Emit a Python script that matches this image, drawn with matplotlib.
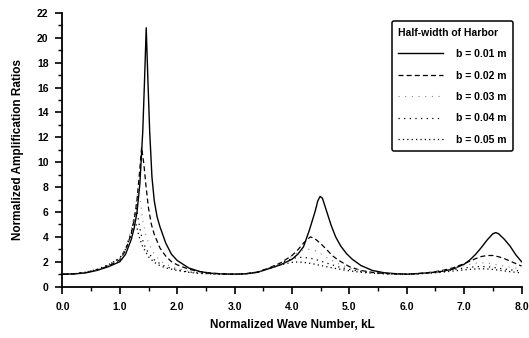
import matplotlib
matplotlib.use('Agg')
import matplotlib.pyplot as plt
from matplotlib.ticker import MultipleLocator, FormatStrFormatter

plt.rcParams['font.family'] = ['Liberation Sans', 'DejaVu Sans']
plt.rcParams['font.weight'] = 'bold'

# b = 0.01 m (solid)
x_b01 = [0.0, 0.2, 0.4, 0.6, 0.8, 1.0, 1.1, 1.2, 1.25, 1.3, 1.35, 1.4, 1.43, 1.46, 1.49,
         1.52, 1.56, 1.6, 1.65, 1.7, 1.8, 1.9, 2.0, 2.2, 2.4, 2.6, 2.8, 3.0, 3.2, 3.4,
         3.6, 3.8, 4.0, 4.1, 4.2, 4.3, 4.4, 4.45, 4.49, 4.53, 4.6, 4.68, 4.76, 4.85, 4.95,
         5.05, 5.2, 5.4, 5.6, 5.8, 6.0, 6.2, 6.4, 6.6, 6.8, 7.0, 7.1, 7.2, 7.3, 7.4,
         7.5, 7.55, 7.6, 7.7, 7.8, 7.9, 8.0]
y_b01 = [1.0, 1.02, 1.1, 1.3, 1.6, 2.0, 2.6, 3.8, 4.7, 6.0, 8.3, 12.5, 16.5, 20.8, 16.5,
         12.5, 8.8, 6.9, 5.6, 4.8, 3.5, 2.6, 2.1, 1.5, 1.2, 1.07, 1.02, 1.0, 1.03, 1.15,
         1.45, 1.75, 2.2, 2.6, 3.2, 4.5, 6.0, 6.9, 7.25, 7.1, 6.1, 4.95, 4.0, 3.25, 2.65,
         2.2, 1.7, 1.3, 1.12, 1.04, 1.0, 1.05, 1.12, 1.22, 1.4, 1.8, 2.15, 2.6, 3.15, 3.75,
         4.25, 4.34, 4.25, 3.8, 3.25, 2.55, 2.0]

# b = 0.02 m (dashed)
x_b02 = [0.0, 0.2, 0.4, 0.6, 0.8, 1.0, 1.1, 1.2, 1.25, 1.3, 1.34, 1.38, 1.42, 1.46, 1.5,
         1.55, 1.6, 1.7, 1.8, 1.9, 2.0, 2.2, 2.4, 2.6, 2.8, 3.0, 3.2, 3.4, 3.6, 3.8,
         4.0, 4.1, 4.2, 4.32, 4.4, 4.5, 4.6, 4.7, 4.8, 5.0, 5.2, 5.4, 5.6, 5.8, 6.0,
         6.2, 6.4, 6.6, 6.8, 7.0, 7.1, 7.2, 7.3, 7.4, 7.5, 7.6, 7.7, 7.8, 7.9, 8.0]
y_b02 = [1.0, 1.03, 1.12, 1.33, 1.65, 2.15, 2.9, 4.3, 5.4, 7.0, 9.0, 11.2, 9.8, 7.9, 6.3,
         5.0, 4.2, 3.1, 2.45, 2.0, 1.75, 1.4, 1.2, 1.08, 1.02, 1.0, 1.04, 1.17, 1.5, 1.9,
         2.5, 2.95, 3.5, 4.0, 3.85, 3.45, 3.0, 2.5, 2.15, 1.6, 1.3, 1.15, 1.06, 1.02, 1.0,
         1.05, 1.14, 1.28, 1.5, 1.85, 2.05, 2.25, 2.42, 2.5, 2.5, 2.4, 2.25, 2.05, 1.85, 1.65]

# b = 0.03 m
x_b03 = [0.0, 0.2, 0.4, 0.6, 0.8, 1.0, 1.1, 1.2, 1.26, 1.32, 1.36, 1.4, 1.45, 1.5, 1.6,
         1.7, 1.8, 2.0, 2.2, 2.4, 2.6, 2.8, 3.0, 3.2, 3.4, 3.6, 3.8, 4.0, 4.1, 4.2,
         4.3, 4.4, 4.5, 4.6, 4.8, 5.0, 5.2, 5.4, 5.6, 5.8, 6.0, 6.2, 6.4, 6.6, 6.8,
         7.0, 7.2, 7.3, 7.4, 7.5, 7.6, 7.8, 8.0]
y_b03 = [1.0, 1.03, 1.13, 1.35, 1.7, 2.25, 3.0, 4.6, 6.0, 7.9, 6.8, 5.3, 4.2, 3.5, 2.6,
         2.1, 1.8, 1.45, 1.25, 1.12, 1.05, 1.01, 1.0, 1.04, 1.18, 1.5, 1.95, 2.45, 2.75, 2.95,
         3.0, 2.9, 2.65, 2.35, 1.85, 1.5, 1.3, 1.15, 1.07, 1.02, 1.0, 1.05, 1.13, 1.25, 1.45,
         1.7, 1.88, 1.92, 1.9, 1.82, 1.72, 1.55, 1.4]

# b = 0.04 m
x_b04 = [0.0, 0.2, 0.4, 0.6, 0.8, 1.0, 1.1, 1.2, 1.25, 1.29, 1.33, 1.37, 1.42, 1.5, 1.6,
         1.7, 1.8, 2.0, 2.2, 2.4, 2.6, 2.8, 3.0, 3.2, 3.4, 3.6, 3.8, 4.0, 4.1, 4.2,
         4.3, 4.4, 4.5, 4.6, 4.8, 5.0, 5.2, 5.4, 5.6, 5.8, 6.0, 6.2, 6.4, 6.6, 6.8,
         7.0, 7.2, 7.3, 7.4, 7.5, 7.6, 7.8, 8.0]
y_b04 = [1.0, 1.03, 1.14, 1.37, 1.73, 2.3, 3.0, 4.4, 5.5, 6.3, 5.2, 4.2, 3.4, 2.7, 2.15,
         1.85, 1.6, 1.35, 1.18, 1.08, 1.03, 1.0, 1.0, 1.04, 1.18, 1.48, 1.9, 2.25, 2.35, 2.35,
         2.3, 2.2, 2.05, 1.9, 1.6, 1.38, 1.22, 1.12, 1.05, 1.01, 1.0, 1.04, 1.1, 1.2, 1.35,
         1.5, 1.6, 1.62, 1.6, 1.55, 1.48, 1.35, 1.25]

# b = 0.05 m
x_b05 = [0.0, 0.2, 0.4, 0.6, 0.8, 1.0, 1.1, 1.2, 1.27, 1.31, 1.35, 1.4, 1.5, 1.6, 1.7,
         1.8, 2.0, 2.2, 2.4, 2.6, 2.8, 3.0, 3.2, 3.4, 3.6, 3.8, 4.0, 4.1, 4.2, 4.3,
         4.4, 4.5, 4.6, 4.8, 5.0, 5.2, 5.4, 5.6, 5.8, 6.0, 6.2, 6.4, 6.6, 6.8, 7.0,
         7.2, 7.3, 7.4, 7.5, 7.6, 7.8, 8.0]
y_b05 = [1.0, 1.03, 1.15, 1.38, 1.75, 2.3, 3.0, 4.2, 5.3, 4.5, 3.8, 3.2, 2.4, 1.95, 1.68,
         1.5, 1.3, 1.15, 1.06, 1.02, 1.0, 1.0, 1.04, 1.17, 1.45, 1.75, 1.95, 1.98, 1.95, 1.88,
         1.8, 1.7, 1.6, 1.42, 1.27, 1.15, 1.08, 1.03, 1.0, 1.0, 1.03, 1.08, 1.15, 1.25, 1.35,
         1.42, 1.44, 1.42, 1.38, 1.32, 1.2, 1.1]

labels = ['b = 0.01 m', 'b = 0.02 m', 'b = 0.03 m', 'b = 0.04 m', 'b = 0.05 m']


def main():
    fig = plt.figure(figsize=(5.29, 3.38), dpi=100)
    ax = fig.add_axes([0.118, 0.152, 0.868, 0.81])

    ax.plot(x_b01, y_b01, color='black', lw=1.0, ls='-', label=labels[0])
    ax.plot(x_b02, y_b02, color='black', lw=0.9, ls=(0, (4, 2.5)), label=labels[1])
    ax.plot(x_b03, y_b03, color='#888888', lw=0.8, ls=(0, (1, 5)), label=labels[2])
    ax.plot(x_b04, y_b04, color='black', lw=0.9, ls=(0, (1, 3.5)), label=labels[3])
    ax.plot(x_b05, y_b05, color='black', lw=0.9, ls=(0, (1, 2.5)), label=labels[4])

    ax.set_xlim(0, 8)
    ax.set_ylim(0, 22)
    for s in ('top', 'right'):
        ax.spines[s].set_visible(False)
    for s in ('left', 'bottom'):
        ax.spines[s].set_linewidth(1.3)

    ax.xaxis.set_major_locator(MultipleLocator(1.0))
    ax.xaxis.set_minor_locator(MultipleLocator(0.5))
    ax.xaxis.set_major_formatter(FormatStrFormatter('%.1f'))
    ax.yaxis.set_major_locator(MultipleLocator(2))
    ax.yaxis.set_minor_locator(MultipleLocator(1))
    ax.tick_params(which='major', direction='out', length=5, width=1.2, labelsize=7.5)
    ax.tick_params(which='minor', direction='out', length=3, width=1.0)
    ax.tick_params(axis='x', pad=6)
    ax.tick_params(axis='y', pad=5)

    ax.set_xlabel('Normalized Wave Number, kL', fontsize=8.5, fontweight='bold', labelpad=5)
    ax.set_ylabel('Normalized Amplification Ratios', fontsize=8.5, fontweight='bold', labelpad=9)

    leg = ax.legend(title='Half-width of Harbor', loc='upper right',
                    bbox_to_anchor=(0.993, 0.988), fontsize=7.5, title_fontsize=7.5,
                    frameon=True, fancybox=True, edgecolor='black', framealpha=1,
                    handlelength=4.3, handletextpad=1.3, labelspacing=1.1,
                    borderpad=0.6, alignment='left')
    leg.get_title().set_fontweight('bold')
    leg.get_frame().set_linewidth(1.1)
    for t in leg.get_texts():
        t.set_fontweight('bold')

    fig.savefig('out.png', dpi=100)


if __name__ == '__main__':
    main()
